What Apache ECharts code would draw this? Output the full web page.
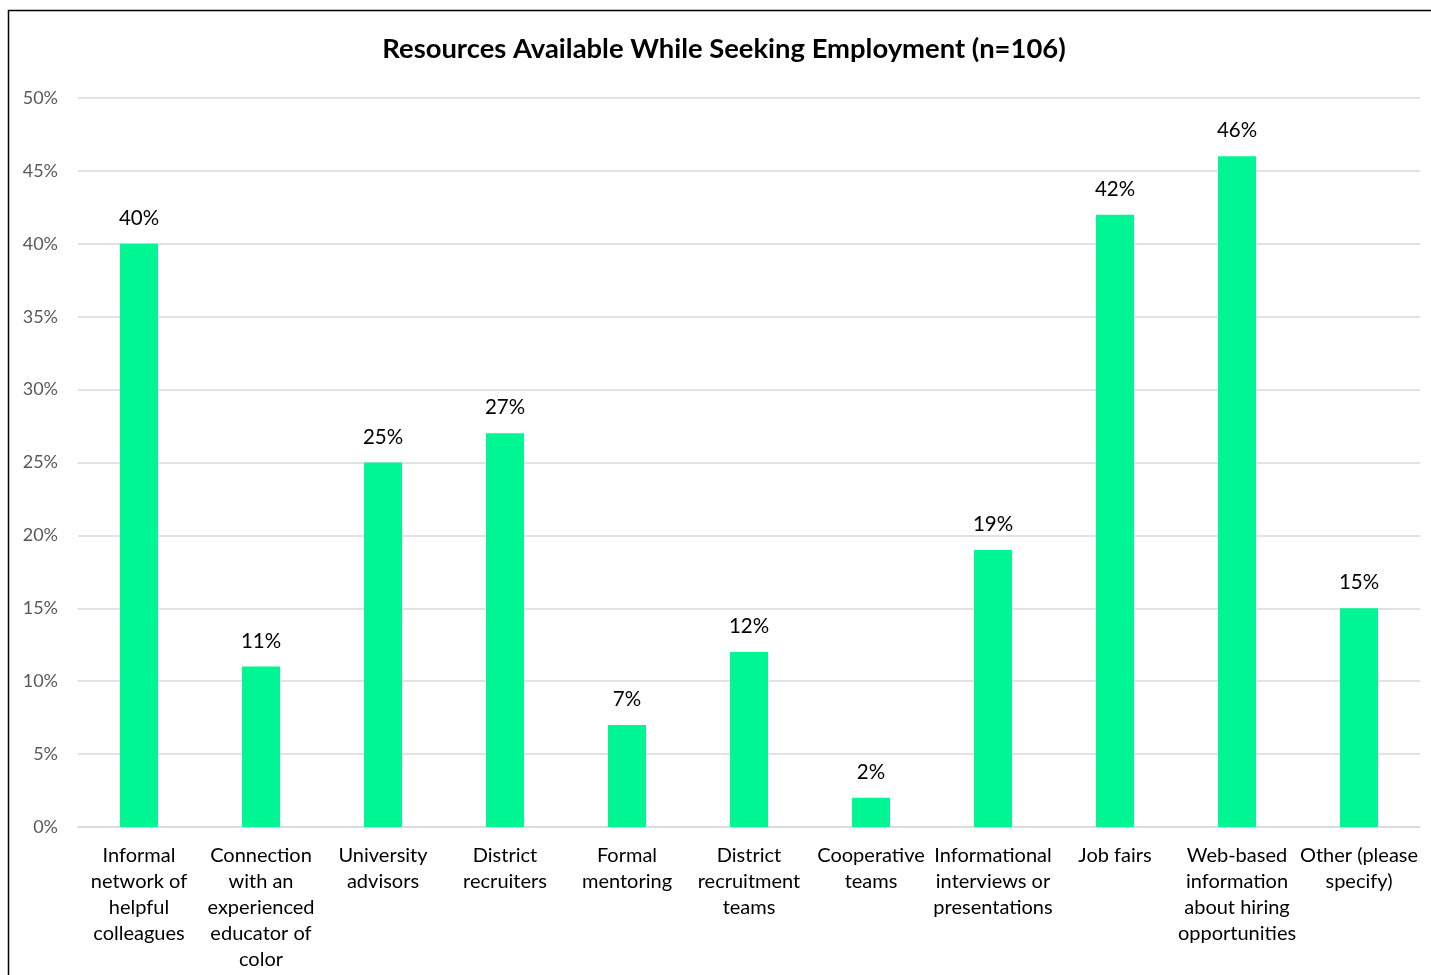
<!DOCTYPE html>
<html>
<head>
<meta charset="utf-8">
<script src="https://cdn.jsdelivr.net/npm/echarts@6/dist/echarts.min.js"></script>
<style>
html,body{margin:0;padding:0;background:#fff;}
#chart{width:1431px;height:975px;}
</style>
</head>
<body>
<div id="chart"></div>
<script>
const titleText = 'Resources Available While Seeking Employment (n=106)';
const categories = [
  'Informal\nnetwork of\nhelpful\ncolleagues',
  'Connection\nwith an\nexperienced\neducator of\ncolor',
  'University\nadvisors',
  'District\nrecruiters',
  'Formal\nmentoring',
  'District\nrecruitment\nteams',
  'Cooperative\nteams',
  'Informational\ninterviews or\npresentations',
  'Job fairs',
  'Web-based\ninformation\nabout hiring\nopportunities',
  'Other (please\nspecify)'
];
const values = [40, 11, 25, 27, 7, 12, 2, 19, 42, 46, 15];
const yTicks = [0, 5, 10, 15, 20, 25, 30, 35, 40, 45, 50];

const FONT = 'Lato, "Open Sans", sans-serif';
const chart = echarts.init(document.getElementById('chart'), null, {renderer: 'canvas'});
chart.setOption({
  animation: false,
  backgroundColor: '#fff',
  grid: {left: 78, right: 11, top: 98, bottom: 148},
  graphic: [
    {type: 'rect', shape: {x: 8.5, y: 10.5, width: 1500, height: 1000},
     style: {fill: 'none', stroke: '#000', lineWidth: 1.5}, z: -1},
    {type: 'text', x: 724, y: 49,
     style: {text: titleText, font: 'bold 27.4px ' + FONT, fill: '#000',
             textAlign: 'center', textVerticalAlign: 'middle'}}
  ],
  xAxis: {
    type: 'category',
    data: categories,
    axisLine: {lineStyle: {color: '#d9d9d9', width: 1.5}},
    axisTick: {show: false},
    axisLabel: {color: '#000', fontSize: 20, fontFamily: FONT, lineHeight: 26, margin: 16, interval: 0}
  },
  yAxis: {
    type: 'value',
    min: yTicks[0], max: yTicks[yTicks.length - 1], interval: 5,
    axisLine: {show: false},
    axisTick: {show: false},
    splitLine: {lineStyle: {color: '#d9d9d9', width: 1.5}},
    axisLabel: {color: '#595959', fontSize: 18, fontFamily: FONT, margin: 20,
                formatter: v => v + '%'}
  },
  series: [{
    type: 'bar',
    data: values,
    barWidth: 38,
    itemStyle: {color: '#00F593'},
    label: {show: true, position: 'top', distance: 15, color: '#000', fontSize: 20.5,
            fontFamily: FONT, formatter: p => p.value + '%'}
  }]
});
</script>
</body>
</html>
